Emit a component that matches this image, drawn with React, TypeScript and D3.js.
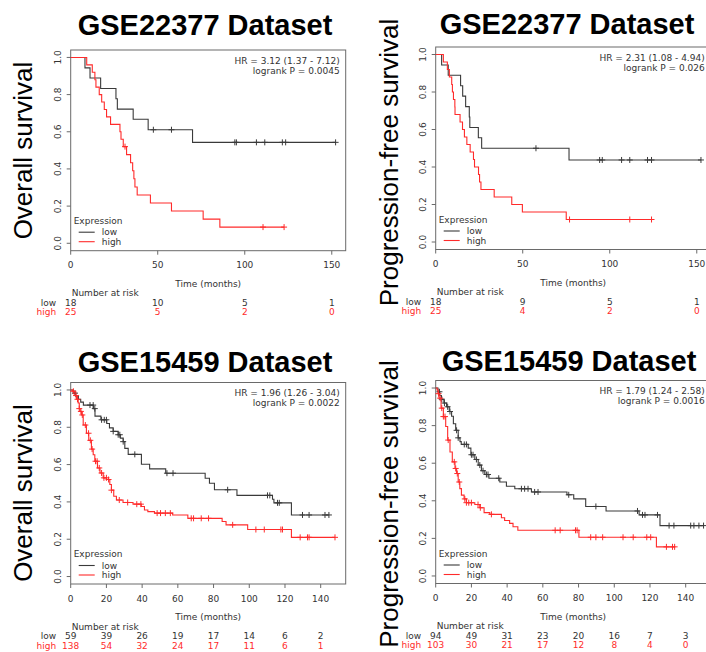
import React from 'react';
import * as d3 from 'd3';

// ---- GSE22377 overall survival ----
const os22377LowSteps: [number, number][] = [[0,1],[8.2,0.944],[11.1,0.889],[17.2,0.833],[26,0.778],[26.8,0.722],[35.9,0.667],[44.5,0.611],[70,0.543]];
const os22377LowCens = [47.5,57.9,94.3,95.2,106.7,111.5,121.6,123.5,152.2];
const os22377HighSteps: [number, number][] = [[0,1],[9.2,0.96],[12.4,0.92],[13.9,0.88],[14.5,0.84],[16.4,0.80],[17.8,0.76],[19.3,0.72],[20.6,0.68],[22.9,0.64],[28.3,0.60],[28.9,0.56],[30.2,0.52],[32.1,0.477],[34.4,0.433],[35.6,0.39],[36.3,0.347],[36.9,0.303],[38.2,0.26],[45.8,0.217],[57.9,0.174],[76.1,0.13],[85.7,0.087]];
const os22377HighCens = [31.2,110.5,122.6];

// ---- GSE22377 progression-free survival ----
const pfs22377LowSteps: [number, number][] = [[0,1],[3.4,0.944],[7.2,0.889],[14.3,0.833],[15.5,0.778],[17.2,0.722],[19.3,0.667],[19.6,0.611],[24.5,0.556],[26.4,0.5],[76.6,0.4375]];
const pfs22377LowCens = [57.6,94.2,95.7,106.8,111.5,121.7,124,152.4];
const pfs22377HighSteps: [number, number][] = [[0,1],[4.4,0.96],[6.7,0.92],[7.85,0.88],[9.2,0.84],[9.6,0.80],[10.2,0.76],[11,0.72],[11.1,0.68],[14,0.64],[15.4,0.60],[16.5,0.56],[17.9,0.52],[19.8,0.48],[21.7,0.44],[22.3,0.40],[24.6,0.36],[25.2,0.32],[26,0.28],[33.6,0.24],[43.7,0.20],[49.8,0.16],[75,0.12]];
const pfs22377HighCens = [76.9,111.5,124];

// ---- GSE15459 overall survival ----
const os15459LowSteps: [number, number][] = [[0,1],[1.5,0.983],[2.8,0.966],[4.3,0.95],[5.6,0.935],[7.1,0.919],[12.7,0.9],[13.6,0.86],[16.9,0.84],[20.2,0.82],[21.7,0.797],[23.8,0.778],[26.6,0.76],[27.8,0.742],[29.4,0.723],[30.3,0.687],[32.2,0.655],[39.6,0.602],[44.2,0.577],[53.2,0.554],[75.3,0.527],[77.7,0.5],[80.5,0.465],[93.1,0.435],[113,0.414],[113.8,0.395],[123.6,0.33]];
const os15459LowCens = [2.4,10.8,12.6,13.5,17.3,18.8,20,23.8,26.6,27.5,29.4,35.9,53.9,57.3,87.9,110.2,111.5,115.8,116.8,129.8,133.5,142.4,144.6];
const os15459HighSteps: [number, number][] = [[0,1],[1.1,0.993],[2.4,0.97],[3.3,0.95],[4.2,0.93],[4.8,0.9],[5.2,0.885],[6.1,0.866],[7,0.812],[8.8,0.768],[10.1,0.73],[11.6,0.683],[12.6,0.653],[13.5,0.618],[15,0.582],[16.4,0.555],[18.2,0.529],[20.1,0.52],[21.9,0.493],[22.8,0.463],[24.1,0.43],[25.6,0.41],[29.3,0.397],[34.9,0.388],[39.5,0.375],[41.3,0.357],[43.2,0.348],[46.9,0.34],[57.1,0.33],[65.6,0.312],[84.8,0.295],[87,0.277],[99.1,0.252],[123.6,0.21]];
const os15459HighCens = [1.5,3,3.8,4.8,5.7,6.5,8.2,10,11,12,13.9,14.8,16,17.3,18.6,20,21.2,22.8,27.2,31.9,37,39.3,48.4,50.3,53,55.8,67.5,68.8,73.1,77.2,90.7,103.7,108.4,117.7,118.6,128.5,132.6,133.5,148];

// ---- GSE15459 progression-free survival ----
const pfs15459LowSteps: [number, number][] = [[0,1],[1.3,0.98],[2.3,0.96],[3.2,0.94],[4.6,0.92],[6.1,0.9],[7.6,0.875],[8.9,0.85],[9.9,0.81],[11.2,0.775],[12.6,0.735],[13.6,0.715],[14.3,0.7],[18.2,0.68],[19.7,0.645],[21.9,0.62],[23.8,0.59],[25.6,0.56],[27.5,0.54],[29.8,0.52],[35.9,0.5],[39.6,0.477],[44.3,0.464],[53.6,0.447],[73.5,0.432],[77.3,0.41],[84,0.37],[95.4,0.346],[113.9,0.325],[125.6,0.268]];
const pfs15459LowCens = [2.1,3.4,4.9,6.7,8,11.7,12.6,16,17.2,20,20.9,22.8,24.7,26.5,28.4,29.3,35.3,48,49.8,51.7,55.4,57.3,74.5,89.7,113,115.8,117.2,124.2,130.7,133.4,142.8,144.6,147.4,150];
const pfs15459HighSteps: [number, number][] = [[0,1],[0.8,0.99],[1.3,0.97],[1.9,0.946],[3,0.893],[4.3,0.848],[5.6,0.795],[6.7,0.723],[8,0.66],[9.3,0.607],[10.8,0.572],[11.7,0.545],[12.6,0.5],[13.5,0.465],[14.4,0.43],[15.9,0.41],[17.2,0.39],[21.9,0.38],[24.7,0.363],[27.1,0.337],[30.3,0.328],[36.8,0.31],[38.6,0.295],[41.4,0.28],[43.3,0.262],[46,0.243],[80.2,0.206],[123.6,0.155]];
const pfs15459HighCens = [1.6,2.5,3.4,4.3,5.2,7,10.4,11.2,12.1,13.2,16.3,17.2,18.5,20,23.7,25,31.2,66.9,69.7,78.3,79.2,86.8,89.7,93.5,104.9,110.6,118.2,120.4,129.2,132.6,133.8];

// ---- number at risk ----
const risk22377Times = [0, 50, 100, 150];
const riskOs22377Low = [18, 10, 5, 1];
const riskOs22377High = [25, 5, 2, 0];
const riskPfs22377Low = [18, 9, 5, 1];
const riskPfs22377High = [25, 4, 2, 0];
const risk15459Times = [0, 20, 40, 60, 80, 100, 120, 140];
const riskOs15459Low = [59, 39, 26, 19, 17, 14, 6, 2];
const riskOs15459High = [138, 54, 32, 24, 17, 11, 6, 1];
const riskPfs15459Low = [94, 49, 31, 23, 20, 16, 7, 3];
const riskPfs15459High = [103, 30, 21, 17, 12, 8, 4, 0];

const yTicks = [0, 0.2, 0.4, 0.6, 0.8, 1.0];
const groups = ['low', 'high'];

const BLACK = '#3a3a3a';
const RED = '#ff2b2b';
const SMALL = "'DejaVu Sans', sans-serif";
const BIG = "'Liberation Sans', Arial, sans-serif";

const panels = [
  { title: 'GSE22377 Dataset', ylab: 'Overall survival', hr: 'HR = 3.12 (1.37 - 7.12)', p: 'logrank P = 0.0045',
    low: os22377LowSteps, lowC: os22377LowCens, high: os22377HighSteps, highC: os22377HighCens,
    times: risk22377Times, rLow: riskOs22377Low, rHigh: riskOs22377High,
    L: 70.7, T: 50, B: 250.7, xMax: 158, titleX: 205, titleY: 35, ylabX: 32, ylabY: 150.5 },
  { title: 'GSE22377 Dataset', ylab: 'Progression-free survival', hr: 'HR = 2.31 (1.08 - 4.94)', p: 'logrank P = 0.026',
    low: pfs22377LowSteps, lowC: pfs22377LowCens, high: pfs22377HighSteps, highC: pfs22377HighCens,
    times: risk22377Times, rLow: riskPfs22377Low, rHigh: riskPfs22377High,
    L: 435.7, T: 47, B: 249.5, xMax: 158, titleX: 567, titleY: 33.5, ylabX: 398, ylabY: 162.5 },
  { title: 'GSE15459 Dataset', ylab: 'Overall survival', hr: 'HR = 1.96 (1.26 - 3.04)', p: 'logrank P = 0.0022',
    low: os15459LowSteps, lowC: os15459LowCens, high: os15459HighSteps, highC: os15459HighCens,
    times: risk15459Times, rLow: riskOs15459Low, rHigh: riskOs15459High,
    L: 70.7, T: 382.5, B: 584, xMax: 154, titleX: 205, titleY: 371.5, ylabX: 32, ylabY: 493 },
  { title: 'GSE15459 Dataset', ylab: 'Progression-free survival', hr: 'HR = 1.79 (1.24 - 2.58)', p: 'logrank P = 0.0016',
    low: pfs15459LowSteps, lowC: pfs15459LowCens, high: pfs15459HighSteps, highC: pfs15459HighCens,
    times: risk15459Times, rLow: riskPfs15459Low, rHigh: riskPfs15459High,
    L: 435.7, T: 380.5, B: 583.5, xMax: 154, titleX: 569, titleY: 370.5, ylabX: 398, ylabY: 504 },
];

function survAt(steps: [number, number][], t: number) {
  let s = 1;
  for (const [tt, v] of steps) if (tt <= t) s = v;
  return s;
}

function Curve({ steps, cens, x, y, color }: any) {
  const end = Math.max(steps[steps.length - 1][0], d3.max(cens as number[]) || 0);
  const pts = [...steps, [end, steps[steps.length - 1][1]]];
  const line = d3.line<number[]>().x(d => x(d[0])).y(d => y(d[1])).curve(d3.curveStepAfter);
  return (
    <g>
      <path d={line(pts) || ''} fill="none" stroke={color} strokeWidth={1.1} />
      {cens.map((t: number, i: number) => {
        const cx = x(t), cy = y(survAt(steps, t));
        return <path key={i} d={`M${cx - 3},${cy}H${cx + 3}M${cx},${cy - 3}V${cy + 3}`} stroke={color} strokeWidth={1} />;
      })}
    </g>
  );
}

function Panel({ p }: any) {
  const W = 275;
  const x = d3.scaleLinear().domain([0, p.xMax]).range([p.L, p.L + W]);
  const y = d3.scaleLinear().domain([-0.04, 1.04]).range([p.B, p.T]);
  const fmt = d3.format('.1f');
  return (
    <g>
      <text x={p.titleX} y={p.titleY} textAnchor="middle" fontFamily={BIG} fontWeight="bold" fontSize={29}>{p.title}</text>
      <text transform={`translate(${p.ylabX},${p.ylabY}) rotate(-90)`} textAnchor="middle" fontFamily={BIG} fontSize={26}>{p.ylab}</text>
      <rect x={p.L} y={p.T} width={W} height={p.B - p.T} fill="none" stroke="#6a6a6a" strokeWidth={1} />
      {yTicks.map(v => (
        <g key={v}>
          <line x1={p.L - 4} x2={p.L} y1={y(v)} y2={y(v)} stroke="#6a6a6a" />
          <text transform={`translate(${p.L - 10},${y(v)}) rotate(-90)`} textAnchor="middle" fontFamily={SMALL} fontSize={9} fill="#333">{fmt(v)}</text>
        </g>
      ))}
      {p.times.map((t: number) => (
        <g key={t}>
          <line x1={x(t)} x2={x(t)} y1={p.B} y2={p.B + 4} stroke="#6a6a6a" />
          <text x={x(t)} y={p.B + 17.5} textAnchor="middle" fontFamily={SMALL} fontSize={9} fill="#333">{t}</text>
        </g>
      ))}
      <text x={p.L + W / 2} y={p.B + 36} textAnchor="middle" fontFamily={SMALL} fontSize={9} fill="#333">Time (months)</text>
      <text x={p.L + W - 6} y={p.T + 13.5} textAnchor="end" fontFamily={SMALL} fontSize={9} fill="#333">{p.hr}</text>
      <text x={p.L + W - 6} y={p.T + 23.5} textAnchor="end" fontFamily={SMALL} fontSize={9} fill="#333">{p.p}</text>
      <Curve steps={p.low} cens={p.lowC} x={x} y={y} color={BLACK} />
      <Curve steps={p.high} cens={p.highC} x={x} y={y} color={RED} />
      <text x={p.L + 3} y={p.B - 27} fontFamily={SMALL} fontSize={9} fill="#333">Expression</text>
      {groups.map((g, i) => (
        <g key={g}>
          <line x1={p.L + 8} x2={p.L + 24} y1={p.B - 18.5 + i * 9.5} y2={p.B - 18.5 + i * 9.5} stroke={i ? RED : BLACK} strokeWidth={1.1} />
          <text x={p.L + 31} y={p.B - 15.3 + i * 9.5} fontFamily={SMALL} fontSize={9} fill="#333">{g}</text>
        </g>
      ))}
      <text x={p.L + 1} y={p.B + 45.5} fontFamily={SMALL} fontSize={9} fill="#333">Number at risk</text>
      {groups.map((g, i) => (
        <g key={g} fill={i ? RED : '#333'} fontFamily={SMALL} fontSize={9}>
          <text x={p.L - 14.5} y={p.B + 55 + i * 9.5} textAnchor="end">{g}</text>
          {(i ? p.rHigh : p.rLow).map((n: number, k: number) => (
            <text key={k} x={x(p.times[k])} y={p.B + 55 + i * 9.5} textAnchor="middle">{n}</text>
          ))}
        </g>
      ))}
    </g>
  );
}

export default function App() {
  return (
    <svg width={706} height={652} style={{ position: 'absolute', left: 0, top: 0, background: '#fff' }}>
      <rect width={706} height={652} fill="#fff" />
      {panels.map((p, i) => <Panel key={i} p={p} />)}
    </svg>
  );
}
